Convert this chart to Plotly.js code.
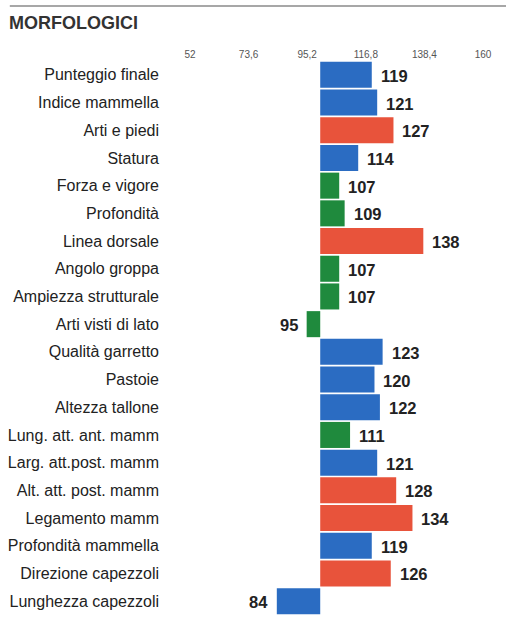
<!DOCTYPE html>
<html>
<head>
<meta charset="utf-8">
<script src="https://cdn.plot.ly/plotly-3.0.1.min.js"></script>
<style>html,body{margin:0;padding:0;background:#fff;}#chart{width:506px;height:627px;}</style>
</head>
<body>
<div id="chart"></div>
<script>
const categories = ["Punteggio finale","Indice mammella","Arti e piedi","Statura","Forza e vigore","Profondità","Linea dorsale","Angolo groppa","Ampiezza strutturale","Arti visti di lato","Qualità garretto","Pastoie","Altezza tallone","Lung. att. ant. mamm","Larg. att.post. mamm","Alt. att. post. mamm","Legamento mamm","Profondità mammella","Direzione capezzoli","Lunghezza capezzoli"];
const values = [119,121,127,114,107,109,138,107,107,95,123,120,122,111,121,128,134,119,126,84];
const groups = ["B","B","R","B","G","G","R","G","G","G","B","B","B","G","B","R","R","B","R","B"];
const baseline = 100;
const tickVals = [52,73.6,95.2,116.8,138.4,160];
const tickText = ["52","73,6","95,2","116,8","138,4","160"];
const palette = {B:"#2b6cc2", R:"#e8533b", G:"#1f8a3d"};

const trace = {
  type: "bar",
  orientation: "h",
  y: categories,
  x: values.map(v => v - baseline),
  base: baseline,
  marker: {color: groups.map(g => palette[g]), line: {width: 0}},
  hoverinfo: "skip"
};

const annotations = values.map((v, i) => ({
  x: v, y: categories[i], xref: "x", yref: "y",
  text: "<b>" + v + "</b>", showarrow: false,
  xanchor: v >= baseline ? "left" : "right",
  xshift: v >= baseline ? 7 : -7,
  yshift: -1,
  font: {family: "Liberation Sans, Arial, sans-serif", size: 16.5, color: "#222"}
}));

annotations.push({
  xref: "paper", yref: "paper", x: -0.625, y: 1, yshift: 38,
  xanchor: "left", yanchor: "middle", showarrow: false,
  text: "<b>MORFOLOGICI</b>",
  font: {family: "Liberation Sans, Arial, sans-serif", size: 18, color: "#333"}
});

const layout = {
  width: 506, height: 627,
  margin: {l: 190, r: 23, t: 61, b: 12},
  paper_bgcolor: "#fff", plot_bgcolor: "#fff",
  showlegend: false,
  bargap: 0.06,
  font: {family: "Liberation Sans, Arial, sans-serif", color: "#222"},
  xaxis: {
    range: [52, 160], side: "top", tickvals: tickVals, ticktext: tickText,
    showgrid: false, zeroline: false, showline: false, ticks: "",
    tickfont: {size: 10, color: "#555"}, fixedrange: true
  },
  yaxis: {
    type: "category", autorange: "reversed", showgrid: false, zeroline: false,
    showline: false, ticks: "", ticklabelstandoff: 30,
    tickfont: {size: 16, color: "#222"}, fixedrange: true
  },
  annotations: annotations,
  shapes: [{
    type: "line", xref: "paper", yref: "paper",
    x0: -0.615, x1: 1.08, y0: 1, y1: 1,
    line: {color: "#8a8a8a", width: 1.5},
    layer: "above"
  }]
};
layout.shapes[0].y0 = layout.shapes[0].y1 = 1 + 55 / (627 - 61 - 12);

Plotly.newPlot("chart", [trace], layout, {displayModeBar: false, staticPlot: true});
</script>
</body>
</html>
